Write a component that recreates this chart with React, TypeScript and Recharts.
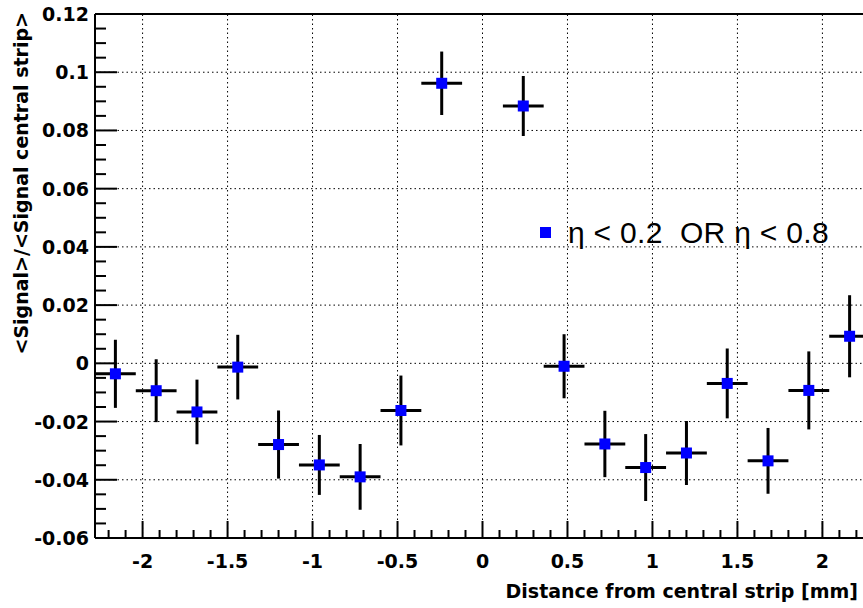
import React from "react";
import {
  ComposedChart,
  Scatter,
  XAxis,
  YAxis,
  ErrorBar,
  ReferenceLine,
  Legend,
  Label,
} from "recharts";

// strip position (bin centres, mm) and measured ratio with errors
const binCenters = [
  -2.16, -1.92, -1.68, -1.44, -1.2, -0.96, -0.72, -0.48, -0.24,
  0.24, 0.48, 0.72, 0.96, 1.2, 1.44, 1.68, 1.92, 2.16,
];
const ratio = [
  -0.0036, -0.0094, -0.0167, -0.0013, -0.0279, -0.0349, -0.039, -0.0162, 0.0962,
  0.0884, -0.001, -0.0277, -0.0358, -0.0308, -0.0069, -0.0335, -0.0093, 0.0093,
];
const ratioErr = [
  0.0117, 0.0108, 0.0111, 0.0111, 0.0117, 0.0103, 0.0113, 0.012, 0.0109,
  0.0103, 0.011, 0.0114, 0.0115, 0.011, 0.012, 0.0113, 0.0134, 0.0141,
];
const binHalfWidth = 0.12;

const xMajor = [-2, -1.5, -1, -0.5, 0, 0.5, 1, 1.5, 2];
const xTicks = [
  -2.2, -2.1, -2, -1.9, -1.8, -1.7, -1.6, -1.5, -1.4, -1.3, -1.2, -1.1, -1,
  -0.9, -0.8, -0.7, -0.6, -0.5, -0.4, -0.3, -0.2, -0.1, 0, 0.1, 0.2, 0.3, 0.4,
  0.5, 0.6, 0.7, 0.8, 0.9, 1, 1.1, 1.2, 1.3, 1.4, 1.5, 1.6, 1.7, 1.8, 1.9, 2,
  2.1, 2.2,
];
const yMajor = [-0.06, -0.04, -0.02, 0, 0.02, 0.04, 0.06, 0.08, 0.1, 0.12];
const yTicks = [
  -0.06, -0.055, -0.05, -0.045, -0.04, -0.035, -0.03, -0.025, -0.02, -0.015,
  -0.01, -0.005, 0, 0.005, 0.01, 0.015, 0.02, 0.025, 0.03, 0.035, 0.04, 0.045,
  0.05, 0.055, 0.06, 0.065, 0.07, 0.075, 0.08, 0.085, 0.09, 0.095, 0.1, 0.105,
  0.11, 0.115, 0.12,
];

const data = binCenters.map((x, i) => ({
  x,
  y: ratio[i],
  ex: binHalfWidth,
  ey: ratioErr[i],
}));

const isMajor = (list: number[], v: number) =>
  list.some((m) => Math.abs(m - v) < 1e-9);

const labelFont = {
  fontFamily: "DejaVu Sans",
  fontWeight: "bold" as const,
  fontSize: 19,
  fill: "#000",
};

const XTick = (props: any) => {
  const { x, y, payload } = props;
  const major = isMajor(xMajor, payload.value);
  return (
    <g>
      <line x1={x} y1={y} x2={x} y2={y - (major ? 17 : 8)} stroke="#000" strokeWidth={2} />
      {major && (
        <text x={x} y={y + 30} textAnchor="middle" {...labelFont}>
          {String(payload.value)}
        </text>
      )}
    </g>
  );
};

const YTick = (props: any) => {
  const { x, y, payload } = props;
  const major = isMajor(yMajor, payload.value);
  return (
    <g>
      <line x1={x} y1={y} x2={x + (major ? 22 : 11)} y2={y} stroke="#000" strokeWidth={2} />
      {major && (
        <text x={x - 6} y={y + 7} textAnchor="end" {...labelFont}>
          {String(payload.value)}
        </text>
      )}
    </g>
  );
};

const Marker = (props: any) => {
  const { cx, cy } = props;
  return <rect x={cx - 5.5} y={cy - 5.5} width={11} height={11} fill="#0000ff" />;
};

const LegendBox = () => (
  <div style={{ position: "relative", width: 320, height: 40 }}>
    <div
      style={{
        position: "absolute",
        left: 0,
        top: 12,
        width: 11,
        height: 11,
        background: "#0000ff",
      }}
    />
    <span
      style={{
        position: "absolute",
        left: 28,
        top: 3,
        fontFamily: "Liberation Sans",
        fontSize: 30,
        letterSpacing: 0.3,
        lineHeight: "30px",
        whiteSpace: "pre",
        color: "#000",
      }}
    >
      {"η < 0.2  OR η < 0.8"}
    </span>
  </div>
);

export default function App() {
  return (
    <div
      style={{
        position: "fixed",
        left: 0,
        top: 0,
        width: 863,
        height: 608,
        overflow: "hidden",
        background: "#fff",
      }}
    >
      <ComposedChart
        width={880}
        height={608}
        data={data}
        margin={{ top: 14, right: 10, bottom: 0, left: 0 }}
      >
        <XAxis
          dataKey="x"
          type="number"
          domain={[-2.28, 2.28]}
          ticks={xTicks}
          interval={0}
          tick={<XTick />}
          tickLine={false}
          tickSize={0}
          tickMargin={0}
          height={70}
          axisLine={{ stroke: "#000", strokeWidth: 2 }}
          allowDataOverflow
        >
          <Label
            content={() => (
              <text x={858} y={598} textAnchor="end" {...labelFont}>
                Distance from central strip [mm]
              </text>
            )}
          />
        </XAxis>
        <YAxis
          dataKey="y"
          type="number"
          domain={[-0.06, 0.12]}
          ticks={yTicks}
          interval={0}
          tick={<YTick />}
          tickLine={false}
          tickSize={0}
          tickMargin={0}
          width={95}
          axisLine={{ stroke: "#000", strokeWidth: 2 }}
          allowDataOverflow
        >
          <Label
            content={() => (
              <text
                x={28}
                y={12}
                textAnchor="end"
                transform="rotate(-90 28 12)"
                {...labelFont}
              >
                {"<Signal>/<Signal central strip>"}
              </text>
            )}
          />
        </YAxis>
        {xMajor.map((v) => (
          <ReferenceLine key={"gx" + v} x={v} stroke="#000" strokeWidth={1} strokeDasharray="1.5 3" />
        ))}
        {yMajor.slice(1, -1).map((v) => (
          <ReferenceLine key={"gy" + v} y={v} stroke="#000" strokeWidth={1} strokeDasharray="1.5 3" />
        ))}
        <ReferenceLine y={0.12} stroke="#000" strokeWidth={2} />
        <ReferenceLine x={2.28} stroke="#000" strokeWidth={2} />
        <Legend
          layout="horizontal"
          verticalAlign="middle"
          align="center"
          content={() => <LegendBox />}
          wrapperStyle={{ left: 540, top: 215, width: 320, height: 40 }}
        />
        <Scatter
          name="eta"
          dataKey="y"
          shape={<Marker />}
          isAnimationActive={false}
        >
          <ErrorBar dataKey="ex" direction="x" width={0} stroke="#000" strokeWidth={3} />
          <ErrorBar dataKey="ey" direction="y" width={0} stroke="#000" strokeWidth={3} />
        </Scatter>
      </ComposedChart>
    </div>
  );
}
